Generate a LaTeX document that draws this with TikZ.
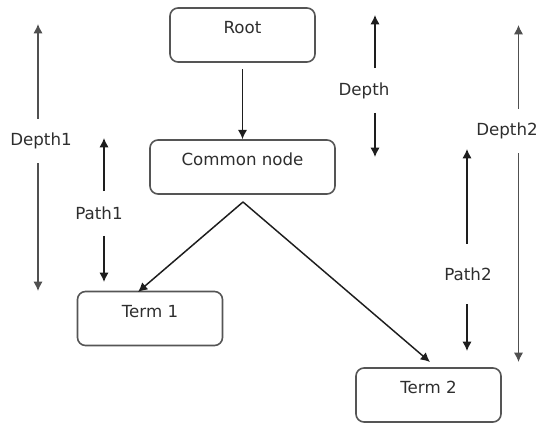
\documentclass[tikz,border=0pt]{standalone}
\usepackage{fontspec}
\setmainfont{DejaVu Sans}
\usepackage{xcolor}
\usepackage{tikz}
\usetikzlibrary{arrows.meta,positioning,calc}

\definecolor{boxline}{HTML}{555555}
\definecolor{inktext}{HTML}{2E2E2E}
\definecolor{darkline}{HTML}{1E1E1E}
\definecolor{greyline}{HTML}{505050}

\begin{document}
\begin{tikzpicture}[x=0.75pt, y=-0.75pt,
    box/.style={rectangle, draw=boxline, line width=1.2pt, rounded corners=6pt, minimum width=108.75pt, minimum height=40.5pt, text height=9pt, text depth=10.5pt, text=inktext, font=\fontsize{12.5}{15}\selectfont},
    lbl/.style={inner sep=0pt, minimum height=33pt, text=inktext, font=\fontsize{12.5}{15}\selectfont},
    arrow/.style={-{Latex[length=7pt,width=7pt]}, draw=darkline, line width=1.1pt},
    dim/.style={arrow},
    dimlight/.style={dim, draw=greyline}]
  \useasboundingbox (0,0) rectangle (542,423);
  % tree boxes
  \node[box] (root)   at (242.5,35)  {Root};
  \node[box, minimum width=138.75pt] (common) at (242.5,167) {Common node};
  \node[box] (term1)  at (150,318.5) {Term 1};
  \node[box] (term2)  at (428.5,395) {Term 2};
  \coordinate (fork) at (243,202);
  \coordinate (t1end) at (138,292);
  \coordinate (t2end) at (430,362);
  \draw[arrow, shorten <=5pt] (root) -- (common);
  \draw[arrow] (fork) -- (t1end);
  \draw[arrow] (fork) -- (t2end);
  % depth / path labels
  \node[lbl] (dep1)  at (41,141)    {Depth1};
  \node[lbl] (path1) at (99,213.5)  {Path1};
  \node[lbl] (dep)   at (364,90.5)  {Depth};
  \node[lbl, minimum height=45pt] (path2) at (468,274) {Path2};
  \node[lbl] (dep2)  at (507,131)   {Depth2};
  \coordinate (dep1top) at (38,24);    \coordinate (dep1bot) at (38,291);
  \coordinate (path1top) at (104,138); \coordinate (path1bot) at (104,282);
  \coordinate (deptop) at (375,15);    \coordinate (depbot) at (375,157);
  \coordinate (path2top) at (467,149); \coordinate (path2bot) at (467,351);
  \coordinate (dep2top) at (518.5,25); \coordinate (dep2bot) at (518.5,362);
  \draw[dimlight] (dep1top |- dep1.north) -- (dep1top);
  \draw[dimlight] (dep1top |- dep1.south) -- (dep1bot);
  \draw[dim] (path1top |- path1.north) -- (path1top);
  \draw[dim] (path1top |- path1.south) -- (path1bot);
  \draw[dim] (deptop |- dep.north) -- (deptop);
  \draw[dim] (deptop |- dep.south) -- (depbot);
  \draw[dim] (path2top |- path2.north) -- (path2top);
  \draw[dim] (path2top |- path2.south) -- (path2bot);
  \draw[dimlight] (dep2top |- dep2.north) -- (dep2top);
  \draw[dimlight] (dep2top |- dep2.south) -- (dep2bot);
\end{tikzpicture}
\end{document}
